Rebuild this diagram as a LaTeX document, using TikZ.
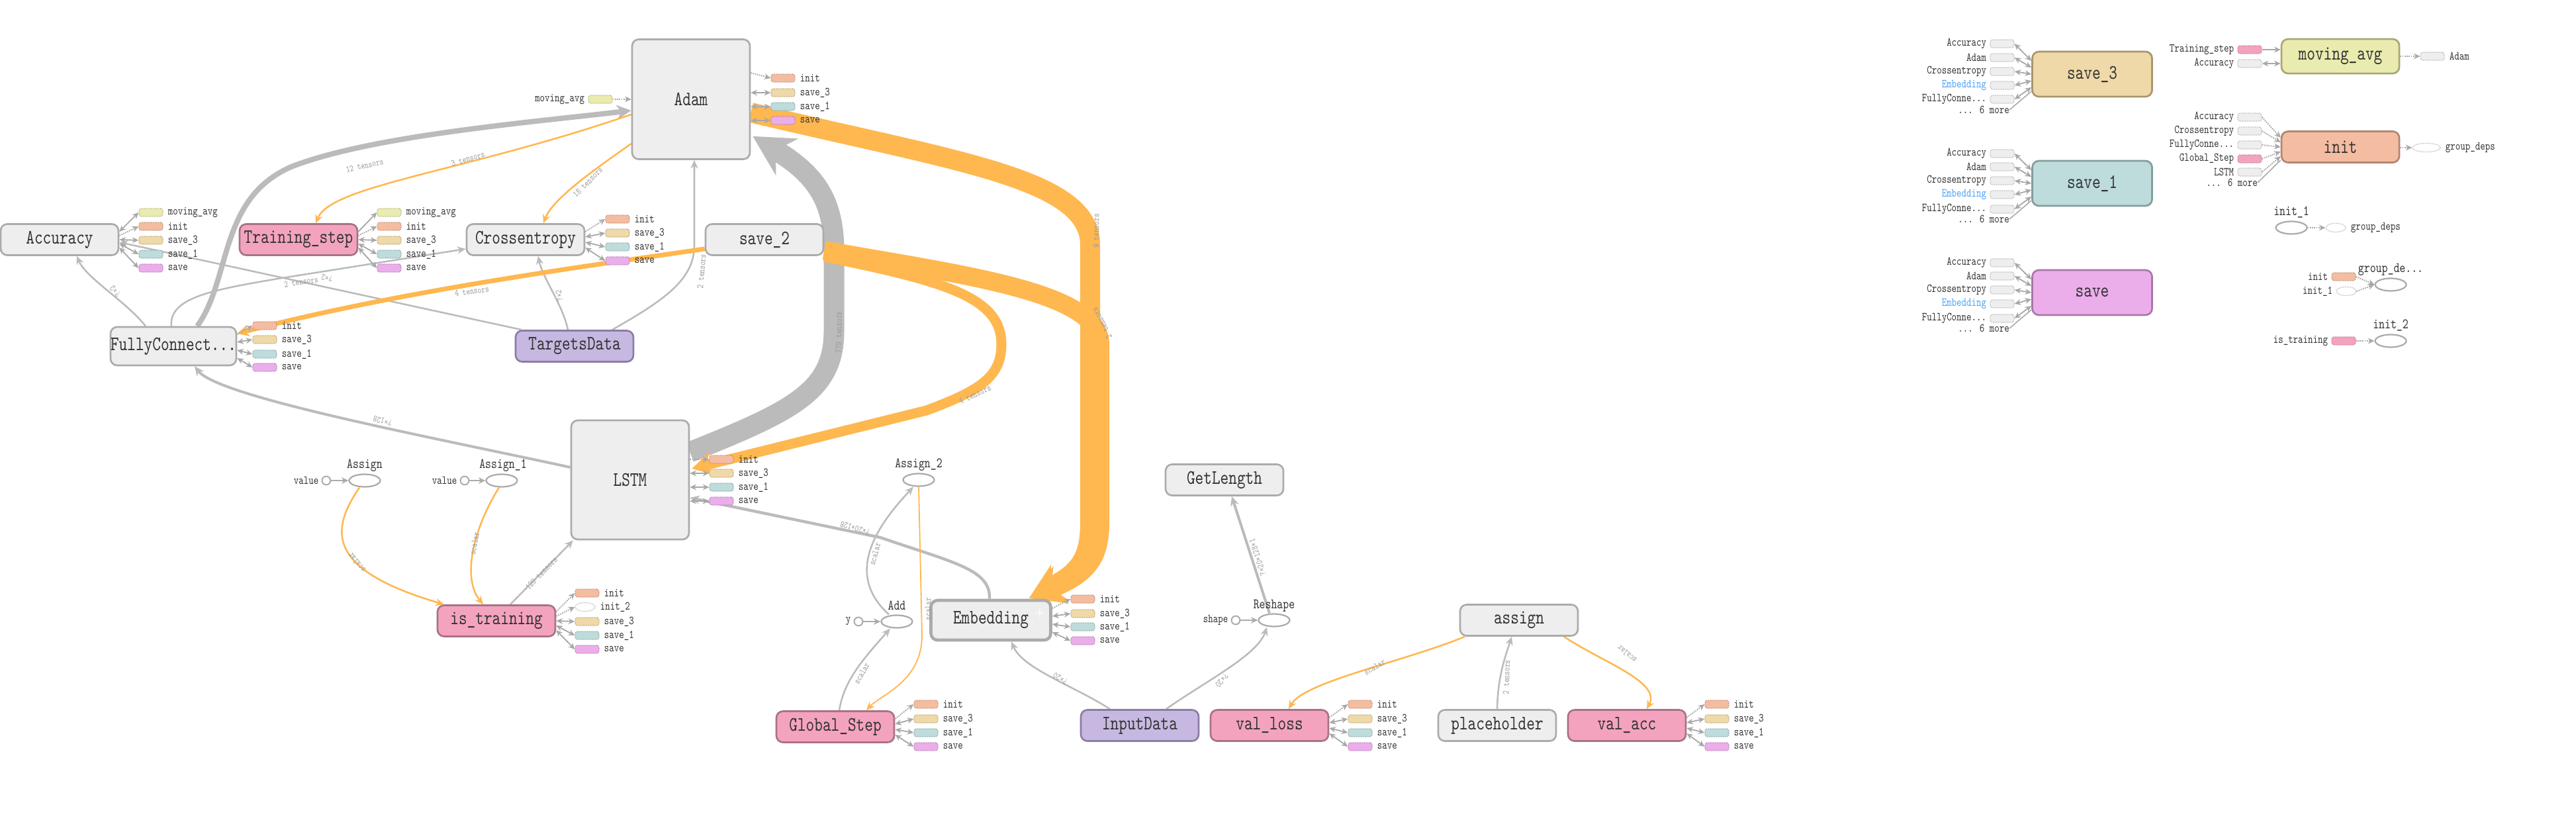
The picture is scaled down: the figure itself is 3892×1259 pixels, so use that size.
\documentclass[tikz,border=0pt]{standalone}
\usepackage{fontspec}
\usetikzlibrary{arrows.meta,shapes.geometric,calc}
\newfontfamily\tb{lmmono10-regular.otf}[FakeStretch=0.78]
\pgfdeclarelayer{bg}
\pgfsetlayers{bg,main}
\definecolor{gF}{HTML}{EEEEEE}
\definecolor{gL}{HTML}{ABABAB}
\definecolor{gD}{HTML}{B5B5B5}
\definecolor{txt}{HTML}{333333}
\definecolor{pF}{HTML}{F4A3BE}
\definecolor{pL}{HTML}{A87287}
\definecolor{pD}{HTML}{C77A95}
\definecolor{uF}{HTML}{C7B8E1}
\definecolor{uL}{HTML}{8B7DA6}
\definecolor{iF}{HTML}{F4BDA1}
\definecolor{iL}{HTML}{B38572}
\definecolor{iD}{HTML}{C58E79}
\definecolor{tF}{HTML}{EFD9A9}
\definecolor{tL}{HTML}{A8966E}
\definecolor{tD}{HTML}{BCA574}
\definecolor{oF}{HTML}{BDDCDB}
\definecolor{oL}{HTML}{849D9C}
\definecolor{oD}{HTML}{8FAAA9}
\definecolor{sF}{HTML}{EBAEEB}
\definecolor{sL}{HTML}{A878A8}
\definecolor{sD}{HTML}{B57FB5}
\definecolor{mF}{HTML}{EAEBAE}
\definecolor{mL}{HTML}{A8A877}
\definecolor{mD}{HTML}{B6B67E}
\definecolor{eg}{HTML}{BBBBBB}
\definecolor{lgc}{HTML}{A8A8A8}
\definecolor{org}{HTML}{FFB74F}
\definecolor{elab}{HTML}{9A9A9A}
\definecolor{blu}{HTML}{4DA3F5}
\newcommand\lgR[5]{\node[lgb,fill=#3,draw=#4] (#1) at (#2) {};\node[lgt] (#1t) at ($(#1.east)+(7,0)$) {#5};}
\newcommand\lgL[5]{\node[lgb,fill=#3,draw=#4] (#1) at (#2) {};\node[lgr] (#1t) at ($(#1.west)+(-5,0)$) {#5};}
\newcommand\edl[4]{\node[elt,rotate=#3] (#1) at (#2) {#4};}
\begin{document}
\begin{tikzpicture}[x=0.25mm,y=-0.25mm,
  box/.style={rectangle, rounded corners=2.5mm, line width=1.9pt, inner sep=0pt, minimum width=44.5mm, minimum height=11.75mm, font=\tb\fontsize{22}{23}\selectfont, text=txt},
  gbox/.style={box, fill=gF, draw=gL},
  pbox/.style={box, fill=pF, draw=pL},
  ubox/.style={box, fill=uF, draw=uL},
  lgb/.style={rectangle, rounded corners=0.8mm, densely dotted, line width=0.9pt, minimum width=9mm, minimum height=3mm, inner sep=0pt},
  lgt/.style={font=\tb\fontsize{13}{14}\selectfont, text=txt, inner sep=0pt, anchor=west},
  lgr/.style={lgt, anchor=east},
  midt/.style={font=\tb\fontsize{15.5}{16}\selectfont, text=txt, inner sep=0pt},
  elt/.style={font=\tb\fontsize{10}{11}\selectfont, text=elab, inner sep=0pt},
  opn/.style={ellipse, draw=gL, line width=1.6pt, minimum width=11.75mm, minimum height=4.75mm, inner sep=0pt, fill=white},
  smc/.style={circle, draw=gL, line width=1.4pt, minimum size=3.2mm, inner sep=0pt, fill=white},
  dte/.style={ellipse, draw=gD, densely dotted, line width=0.9pt, minimum width=7.5mm, minimum height=3.3mm, inner sep=0pt},
  ge/.style={draw=eg, line width=1.8pt, -{Stealth[length=3.2mm,width=2.8mm]}},
  oe/.style={draw=org, line width=1.8pt, -{Stealth[length=3.2mm,width=2.8mm]}},
  la/.style={draw=lgc, line width=1.3pt, -{Stealth[length=2.4mm,width=2.2mm]}},
  lad/.style={draw=lgc, line width=1.3pt, {Stealth[length=2.4mm,width=2.2mm]}-{Stealth[length=2.4mm,width=2.2mm]}},
  ld/.style={draw=lgc, line width=1.3pt, densely dotted, -{Stealth[length=2.4mm,width=2.2mm]}},
  mline/.style={draw=lgc, line width=1.1pt}
]
\useasboundingbox (0,0) rectangle (3892,1259);

% ---------- main nodes ----------
\node[gbox, minimum height=45.25mm] (adam) at (1044,150) {Adam};
\node[gbox] (acc) at (90,362) {Accuracy};
\node[pbox] (ts) at (451,362) {Training\_step};
\node[gbox] (ce) at (794,362) {Crossentropy};
\node[gbox] (s2) at (1155,362) {save\_2};
\node[gbox, minimum height=14.5mm] (fc) at (262,523) {FullyConnect...};
\node[ubox] (td) at (868,523) {TargetsData};
\node[gbox, minimum height=45mm] (lstm) at (952,725) {LSTM};
\node[pbox] (ist) at (750,938) {is\_training};
\node[gbox, line width=3.3pt, minimum width=45.25mm, minimum height=15mm] (emb) at (1497,937) {Embedding};
\node[text=white, font=\bfseries\fontsize{14}{14}\selectfont, inner sep=0pt] (embplus) at (1571,927) {+};
\node[pbox] (gs) at (1262,1098) {Global\_Step};
\node[ubox] (inp) at (1722,1096) {InputData};
\node[pbox] (vl) at (1918,1096) {val\_loss};
\node[gbox] (ph) at (2262,1096) {placeholder};
\node[pbox] (va) at (2458,1096) {val\_acc};
\node[gbox] (asg) at (2295,937) {assign};
\node[gbox] (gl) at (1850,725) {GetLength};

% op ellipses
\node[opn] (asn) at (551,726) {};
\node[midt] (asnt) at (551,703) {Assign};
\node[smc] (asv) at (493,726) {};
\node[lgr] (asvt) at ($(asv.west)+(-4,0)$) {value};
\node[opn] (as1) at (758,726) {};
\node[midt] (as1t) at (760,703) {Assign\_1};
\node[smc] (as1v) at (702,726) {};
\node[lgr] (as1vt) at ($(as1v.west)+(-4,0)$) {value};
\node[opn] (as2) at (1388,725) {};
\node[midt] (as2t) at (1388,702) {Assign\_2};
\node[opn] (add) at (1355,939) {};
\node[midt] (addt) at (1355,915) {Add};
\node[smc] (addy) at (1297,939) {};
\node[lgr] (addyt) at ($(addy.west)+(-4,0)$) {y};
\node[opn] (rsh) at (1925,937) {};
\node[midt] (rsht) at (1925,915) {Reshape};
\node[smc] (rshs) at (1867,937) {};
\node[lgr] (rshst) at ($(rshs.west)+(-4,0)$) {shape};
\draw[draw=gL, line width=1.5pt, -{Stealth[length=2.6mm,width=2.4mm]}] (asv) -- (asn);
\draw[draw=gL, line width=1.5pt, -{Stealth[length=2.6mm,width=2.4mm]}] (as1v) -- (as1);
\draw[draw=gL, line width=1.5pt, -{Stealth[length=2.6mm,width=2.4mm]}] (addy) -- (add);
\draw[draw=gL, line width=1.5pt, -{Stealth[length=2.6mm,width=2.4mm]}] (rshs) -- (rsh);

% ---------- legends ----------
% Adam
\lgL{adM}{907,150}{mF}{mD}{moving\_avg}
\draw[ld] (adM.east) -- (adM.east -| adam.west);
\lgR{adA}{1183,118}{iF}{iD}{init}
\lgR{adB}{1183,140}{tF}{tD}{save\_3}
\lgR{adC}{1183,161}{oF}{oD}{save\_1}
\lgR{adD}{1183,182}{sF}{sD}{save}
\draw[ld] ($(adam.east)+(0,-40)$) -- (adA.west);
\draw[lad] (adB.west -| adam.east) -- (adB.west);
\draw[lad] (adC.west -| adam.east) -- (adC.west);
\draw[lad] (adD.west -| adam.east) -- (adD.west);
% Accuracy
\lgR{acA}{228,321}{mF}{mD}{moving\_avg}
\lgR{acB}{228,342}{iF}{iD}{init}
\lgR{acC}{228,363}{tF}{tD}{save\_3}
\lgR{acD}{228,384}{oF}{oD}{save\_1}
\lgR{acE}{228,405}{sF}{sD}{save}
\draw[lad] ($(acc.east)+(0,-12)$) -- (acA.west);
\draw[ld] ($(acc.east)+(0,-6)$) -- (acB.west);
\draw[lad] ($(acc.east)+(0,0)$) -- (acC.west);
\draw[lad] ($(acc.east)+(0,6)$) -- (acD.west);
\draw[lad] ($(acc.east)+(0,12)$) -- (acE.west);
% Training_step
\lgR{tsA}{588,321}{mF}{mD}{moving\_avg}
\lgR{tsB}{588,342}{iF}{iD}{init}
\lgR{tsC}{588,363}{tF}{tD}{save\_3}
\lgR{tsD}{588,384}{oF}{oD}{save\_1}
\lgR{tsE}{588,405}{sF}{sD}{save}
\draw[la] ($(ts.east)+(0,-12)$) -- (tsA.west);
\draw[ld] ($(ts.east)+(0,-6)$) -- (tsB.west);
\draw[lad] ($(ts.east)+(0,0)$) -- (tsC.west);
\draw[lad] ($(ts.east)+(0,6)$) -- (tsD.west);
\draw[lad] ($(ts.east)+(0,12)$) -- (tsE.west);
% Crossentropy
\lgR{ceA}{933,331}{iF}{iD}{init}
\lgR{ceB}{933,352}{tF}{tD}{save\_3}
\lgR{ceC}{933,373}{oF}{oD}{save\_1}
\lgR{ceD}{933,394}{sF}{sD}{save}
\draw[ld] ($(ce.east)+(0,-12)$) -- (ceA.west);
\draw[lad] ($(ce.east)+(0,-4)$) -- (ceB.west);
\draw[lad] ($(ce.east)+(0,4)$) -- (ceC.west);
\draw[lad] ($(ce.east)+(0,12)$) -- (ceD.west);
% FullyConnect
\lgR{fcA}{400,492}{iF}{iD}{init}
\lgR{fcB}{400,513}{tF}{tD}{save\_3}
\lgR{fcC}{400,535}{oF}{oD}{save\_1}
\lgR{fcD}{400,555}{sF}{sD}{save}
\draw[ld] ($(fc.east)+(0,-18)$) -- (fcA.west);
\draw[lad] ($(fc.east)+(0,-6)$) -- (fcB.west);
\draw[lad] ($(fc.east)+(0,6)$) -- (fcC.west);
\draw[lad] ($(fc.east)+(0,18)$) -- (fcD.west);
% LSTM
\lgR{lsA}{1090,694}{iF}{iD}{init}
\lgR{lsB}{1090,715}{tF}{tD}{save\_3}
\lgR{lsC}{1090,736}{oF}{oD}{save\_1}
\lgR{lsD}{1090,757}{sF}{sD}{save}
\draw[ld] (lsA.west -| lstm.east) -- (lsA.west);
\draw[lad] (lsB.west -| lstm.east) -- (lsB.west);
\draw[lad] (lsC.west -| lstm.east) -- (lsC.west);
\draw[lad] (lsD.west -| lstm.east) -- (lsD.west);
% is_training
\lgR{itA}{887,896}{iF}{iD}{init}
\node[dte] (itB) at (884,917) {};
\node[lgt] (itBt) at ($(itB.east)+(7,0)$) {init\_2};
\lgR{itC}{887,939}{tF}{tD}{save\_3}
\lgR{itD}{887,960}{oF}{oD}{save\_1}
\lgR{itE}{887,981}{sF}{sD}{save}
\draw[ld] ($(ist.east)+(0,-14)$) -- (itA.west);
\draw[ld] ($(ist.east)+(0,-7)$) -- (itB.west);
\draw[lad] ($(ist.east)+(0,0)$) -- (itC.west);
\draw[lad] ($(ist.east)+(0,7)$) -- (itD.west);
\draw[lad] ($(ist.east)+(0,14)$) -- (itE.west);
% Embedding
\lgR{emA}{1636,905}{iF}{iD}{init}
\lgR{emB}{1636,927}{tF}{tD}{save\_3}
\lgR{emC}{1636,947}{oF}{oD}{save\_1}
\lgR{emD}{1636,968}{sF}{sD}{save}
\draw[ld] ($(emb.east)+(0,-18)$) -- (emA.west);
\draw[lad] ($(emb.east)+(0,-6)$) -- (emB.west);
\draw[lad] ($(emb.east)+(0,6)$) -- (emC.west);
\draw[lad] ($(emb.east)+(0,18)$) -- (emD.west);
% Global_Step
\lgR{gsA}{1399,1064}{iF}{iD}{init}
\lgR{gsB}{1399,1086}{tF}{tD}{save\_3}
\lgR{gsC}{1399,1107}{oF}{oD}{save\_1}
\lgR{gsD}{1399,1128}{sF}{sD}{save}
\draw[ld] ($(gs.east)+(0,-12)$) -- (gsA.west);
\draw[lad] ($(gs.east)+(0,-4)$) -- (gsB.west);
\draw[lad] ($(gs.east)+(0,4)$) -- (gsC.west);
\draw[lad] ($(gs.east)+(0,12)$) -- (gsD.west);
% val_loss
\lgR{vlA}{2055,1064}{iF}{iD}{init}
\lgR{vlB}{2055,1086}{tF}{tD}{save\_3}
\lgR{vlC}{2055,1107}{oF}{oD}{save\_1}
\lgR{vlD}{2055,1128}{sF}{sD}{save}
\draw[ld] ($(vl.east)+(0,-12)$) -- (vlA.west);
\draw[lad] ($(vl.east)+(0,-4)$) -- (vlB.west);
\draw[lad] ($(vl.east)+(0,4)$) -- (vlC.west);
\draw[lad] ($(vl.east)+(0,12)$) -- (vlD.west);
% val_acc
\lgR{vaA}{2594,1064}{iF}{iD}{init}
\lgR{vaB}{2594,1086}{tF}{tD}{save\_3}
\lgR{vaC}{2594,1107}{oF}{oD}{save\_1}
\lgR{vaD}{2594,1128}{sF}{sD}{save}
\draw[ld] ($(va.east)+(0,-12)$) -- (vaA.west);
\draw[lad] ($(va.east)+(0,-4)$) -- (vaB.west);
\draw[lad] ($(va.east)+(0,4)$) -- (vaC.west);
\draw[lad] ($(va.east)+(0,12)$) -- (vaD.west);

% ---------- right panel ----------
\node[box, fill=tF, draw=tL, minimum width=45.25mm, minimum height=17mm] (rs3) at (3161,112) {save\_3};
\node[box, fill=oF, draw=oL, minimum width=45.25mm, minimum height=17mm] (rs1) at (3161,277) {save\_1};
\node[box, fill=sF, draw=sL, minimum width=45.25mm, minimum height=17mm] (rs) at (3161,442) {save};
\node[box, fill=mF, draw=mL, minimum height=13mm] (rma) at (3536,85) {moving\_avg};
\node[box, fill=iF, draw=iL] (rin) at (3536,222) {init};
% save_3 inputs
\lgL{raA}{3025,66}{gF}{gD}{Accuracy}
\lgL{raB}{3025,87}{gF}{gD}{Adam}
\lgL{raC}{3025,108}{gF}{gD}{Crossentropy}
\lgL{raD}{3025,129}{gF}{gD}{\textcolor{blu}{Embedding}}
\lgL{raE}{3025,150}{gF}{gD}{FullyConne...}
\node[lgr] (raM) at (3036,166) {... 6 more};
\draw[lad] (raA.east) -- ($(rs3.west)+(0,-20)$);
\draw[lad] (raB.east) -- ($(rs3.west)+(0,-10)$);
\draw[lad] (raC.east) -- ($(rs3.west)+(0,0)$);
\draw[lad] (raD.east) -- ($(rs3.west)+(0,10)$);
\draw[lad] (raE.east) -- ($(rs3.west)+(0,20)$);
\draw[mline] (raM.east) -- ($(rs3.west)+(0,26)$);
% save_1 inputs
\lgL{rbA}{3025,232}{gF}{gD}{Accuracy}
\lgL{rbB}{3025,252}{gF}{gD}{Adam}
\lgL{rbC}{3025,273}{gF}{gD}{Crossentropy}
\lgL{rbD}{3025,294}{gF}{gD}{\textcolor{blu}{Embedding}}
\lgL{rbE}{3025,316}{gF}{gD}{FullyConne...}
\node[lgr] (rbM) at (3036,331) {... 6 more};
\draw[lad] (rbA.east) -- ($(rs1.west)+(0,-20)$);
\draw[lad] (rbB.east) -- ($(rs1.west)+(0,-10)$);
\draw[lad] (rbC.east) -- ($(rs1.west)+(0,0)$);
\draw[lad] (rbD.east) -- ($(rs1.west)+(0,10)$);
\draw[lad] (rbE.east) -- ($(rs1.west)+(0,20)$);
\draw[mline] (rbM.east) -- ($(rs1.west)+(0,26)$);
% save inputs
\lgL{rcA}{3025,397}{gF}{gD}{Accuracy}
\lgL{rcB}{3025,417}{gF}{gD}{Adam}
\lgL{rcC}{3025,438}{gF}{gD}{Crossentropy}
\lgL{rcD}{3025,459}{gF}{gD}{\textcolor{blu}{Embedding}}
\lgL{rcE}{3025,481}{gF}{gD}{FullyConne...}
\node[lgr] (rcM) at (3036,496) {... 6 more};
\draw[lad] (rcA.east) -- ($(rs.west)+(0,-20)$);
\draw[lad] (rcB.east) -- ($(rs.west)+(0,-10)$);
\draw[lad] (rcC.east) -- ($(rs.west)+(0,0)$);
\draw[lad] (rcD.east) -- ($(rs.west)+(0,10)$);
\draw[lad] (rcE.east) -- ($(rs.west)+(0,20)$);
\draw[mline] (rcM.east) -- ($(rs.west)+(0,26)$);
% moving_avg
\lgL{rmA}{3399,75}{pF}{pD}{Training\_step}
\lgL{rmB}{3399,96}{gF}{gD}{Accuracy}
\draw[la] (rmA.east) -- (rmA.east -| rma.west);
\draw[lad] (rmB.east) -- (rmB.east -| rma.west);
\lgR{rmC}{3675,85}{gF}{gD}{Adam}
\draw[ld] (rmC.west -| rma.east) -- (rmC.west);
% init
\lgL{riA}{3399,177}{gF}{gD}{Accuracy}
\lgL{riB}{3399,198}{gF}{gD}{Crossentropy}
\lgL{riC}{3399,219}{gF}{gD}{FullyConne...}
\lgL{riD}{3399,240}{pF}{pD}{Global\_Step}
\lgL{riE}{3399,260}{gF}{gD}{LSTM}
\node[lgr] (riM) at (3411,276) {... 6 more};
\draw[ld] (riA.east) -- ($(rin.west)+(0,-14)$);
\draw[ld] (riB.east) -- ($(rin.west)+(0,-7)$);
\draw[ld] (riC.east) -- ($(rin.west)+(0,0)$);
\draw[ld] (riD.east) -- ($(rin.west)+(0,7)$);
\draw[ld] (riE.east) -- ($(rin.west)+(0,14)$);
\draw[mline] (riM.east) -- ($(rin.west)+(0,20)$);
\node[dte, minimum width=10.5mm] (riG) at (3666,223) {};
\node[lgt] (riGt) at ($(riG.east)+(7,0)$) {group\_deps};
\draw[ld] (riG.west -| rin.east) -- (riG.west);
% init_1
\node[midt] (i1t) at (3462,321) {init\_1};
\node[opn] (i1) at (3462,344) {};
\node[dte] (i1g) at (3529,344) {};
\node[lgt] (i1gt) at ($(i1g.east)+(7,0)$) {group\_deps};
\draw[ld] (i1.east) -- (i1g.west);
% group_de...
\node[midt] (gdt) at (3612,407) {group\_de...};
\node[opn] (gd) at (3612,430) {};
\lgL{gdA}{3541,418}{iF}{iD}{init}
\node[dte] (gdB) at (3545,440) {};
\node[lgr] (gdBt) at ($(gdB.west)+(-5,0)$) {init\_1};
\draw[ld] (gdA.east) -- (gd.west);
\draw[ld] (gdB.east) -- (gd.west);
% init_2
\node[midt] (i2t) at (3612,492) {init\_2};
\node[opn] (i2) at (3612,515) {};
\lgL{i2A}{3541,515}{pF}{pD}{is\_training}
\draw[ld] (i2A.east) -- (i2.west);

% ---------- edges (behind) ----------
\begin{pgfonlayer}{bg}
\fill[white] (0,0) rectangle (3892,1259);
% LSTM -> Adam (779 tensors)
\draw[draw=eg, line width=7.75mm, -{Stealth[length=15mm,width=16mm]}]
  ($(lstm.east)+(0,-42)$) .. controls (1200,620) and (1260,590) .. (1260,500) -- (1260,380)
  .. controls (1260,300) and (1230,262) .. ($(adam.south east)+(3,-36)$);
% FullyConnect -> Adam (12 tensors)
\draw[draw=eg, line width=2mm, -{Stealth[length=5.5mm,width=5.5mm]}]
  ($(fc.north)+(36,0)$) .. controls (350,420) and (330,300) .. (440,252)
  .. controls (560,205) and (800,185) .. ($(adam.west)+(0,17)$);
% Adam -> Training_step
\draw[oe] ($(adam.west)+(0,23)$) .. controls (700,260) and (500,280) .. ($(ts.north)+(26,0)$);
% Adam -> Crossentropy
\draw[oe] ($(adam.west)+(0,67)$) .. controls (900,255) and (835,300) .. ($(ce.north)+(27,0)$);
% TargetsData -> Adam
\draw[ge] ($(td.north)+(57,0)$) .. controls (1010,450) and (1049,420) .. (1049,370) -- ($(adam.south)+(5,0)$);
% TargetsData -> Crossentropy
\draw[ge] ($(td.north)+(-10,0)$) .. controls (850,460) and (820,420) .. ($(ce.south)+(19,0)$);
% TargetsData -> Accuracy
\draw[ge] ($(td.north)+(-80,0)$) -- ($(acc.east)+(0,4)$);
% FullyConnect -> Crossentropy
\draw[ge] ($(fc.north)+(-3,0)$) .. controls (255,450) and (320,438) .. (420,421) -- ($(ce.west)+(0,14)$);
% FullyConnect -> Accuracy
\draw[ge] ($(fc.north)+(-42,0)$) .. controls (190,455) and (130,420) .. ($(acc.south)+(26,0)$);
% save_2 -> FullyConnect
\draw[draw=org, line width=1.75mm, -{Stealth[length=4.5mm,width=4.5mm]}]
  ($(s2.west)+(0,14)$) .. controls (900,400) and (600,440) .. ($(fc.east)+(0,-19)$);
% LSTM -> FullyConnect
\draw[draw=eg, line width=1mm, -{Stealth[length=3.6mm,width=3.2mm]}]
  ($(lstm.west)+(0,-19)$) .. controls (650,660) and (330,600) .. ($(fc.south)+(32,0)$);
% Embedding -> LSTM
\draw[draw=eg, line width=1.1mm, -{Stealth[length=3.6mm,width=3.2mm]}]
  ($(emb.north)+(-2,0)$) .. controls (1497,860) and (1440,850) .. (1330,812) -- ($(lstm.east)+(0,27)$);
% is_training -> LSTM
\draw[ge] ($(ist.north)+(21,0)$) -- ($(lstm.south)+(-86,0)$);
% Assign -> is_training
\draw[oe] ($(asn.south)+(-8,0)$) .. controls (500,800) and (490,860) .. ($(ist.north)+(-79,0)$);
% Assign_1 -> is_training
\draw[oe] ($(as1.south)+(-4,0)$) .. controls (720,790) and (695,870) .. ($(ist.north)+(-20,0)$);
% Global_Step -> Add
\draw[ge] ($(gs.north)+(6,0)$) .. controls (1275,1030) and (1300,1000) .. ($(add.south)+(-10,0)$);
% Add -> Assign_2
\draw[ge] ($(add.north)+(-12,0)$) .. controls (1290,880) and (1300,820) .. ($(as2.south)+(-8,0)$);
% Assign_2 -> Global_Step
\draw[oe, line width=1.3pt] (as2.south) -- (1393,960) .. controls (1393,1030) and (1330,1050) .. ($(gs.north)+(47,0)$);
% InputData -> Embedding
\draw[ge] ($(inp.north)+(-45,0)$) .. controls (1620,1035) and (1545,1010) .. ($(emb.south)+(31,0)$);
% InputData -> Reshape
\draw[ge] ($(inp.north)+(40,0)$) .. controls (1820,1030) and (1900,990) .. ($(rsh.south)+(-11,0)$);
% Reshape -> GetLength
\draw[draw=eg, line width=1mm, -{Stealth[length=3.6mm,width=3.2mm]}] ($(rsh.north)+(-7,0)$) -- ($(gl.south)+(11,0)$);
% placeholder -> assign
\draw[ge] (ph.north) .. controls (2263,1020) and (2275,990) .. ($(asg.south)+(-11,0)$);
% assign -> val_loss / val_acc
\draw[oe] ($(asg.south)+(-82,0)$) .. controls (2120,1000) and (1970,1030) .. ($(vl.north)+(29,0)$);
\draw[oe] ($(asg.south)+(68,0)$) .. controls (2420,1000) and (2510,1030) .. ($(va.north)+(30,0)$);
% Adam -> Embedding (9 tensors)
\draw[draw=org, line width=7.5mm, -{Stealth[length=13mm,width=15mm]}]
  ($(adam.east)+(0,20)$) .. controls (1450,245) and (1647,270) .. (1647,370) -- (1647,790)
  .. controls (1647,845) and (1630,866) .. ($(emb.north east)+(-35,-1)$);
% save_2 -> Embedding (2 tensors)
\draw[draw=org, line width=7mm, -{Stealth[length=13mm,width=15mm]}]
  ($(s2.east)+(0,16)$) .. controls (1450,415) and (1662,440) .. (1662,520) -- (1662,790)
  .. controls (1662,850) and (1636,870) .. ($(emb.north east)+(-35,-1)$);
% save_2 -> LSTM (4 tensors)
\draw[draw=org, line width=3.75mm, -{Stealth[length=8mm,width=9mm]}]
  ($(s2.east)+(0,26)$) .. controls (1430,425) and (1513,450) .. (1513,520)
  .. controls (1513,570) and (1480,590) .. (1400,620) -- ($(lstm.east)+(3,-17)$);
\end{pgfonlayer}

% ---------- edge labels ----------
\edl{l1}{551,250}{12}{12 tensors}
\edl{l2}{707,240}{16}{3 tensors}
\edl{l3}{888,275}{45}{18 tensors}
\edl{l4}{1060,410}{85}{2 tensors}
\edl{l5}{845,447}{102}{?×2}
\edl{l6}{174,440}{135}{?×2}
\edl{l7}{455,426}{9}{2 tensors}
\edl{l8}{494,420}{168}{?×2}
\edl{l9}{713,440}{8}{4 tensors}
\edl{l10}{578,636}{165}{?×128}
\edl{l11}{1292,798}{164}{?×20×128}
\edl{l12}{1602,1025}{150}{?×20}
\edl{l13}{1900,842}{108}{?×20×128×1}
\edl{l14}{1846,1028}{-130}{?×20}
\edl{l15}{818,866}{46}{120 tensors}
\edl{l16}{539,850}{130}{scalar}
\edl{l17}{717,821}{80}{scalar}
\edl{l18}{1302,1017}{60}{scalar}
\edl{l19}{1322,837}{75}{scalar}
\edl{l20}{1402,920}{90}{scalar}
\edl{l21}{1267,502}{90}{779 tensors}
\edl{l22}{1656,349}{90}{9 tensors}
\edl{l23}{1665,488}{117}{2 tensors}
\edl{l24}{1473,596}{25}{4 tensors}
\edl{l25}{2077,1008}{30}{scalar}
\edl{l26}{2458,988}{140}{scalar}
\edl{l27}{2276,1023}{88}{2 tensors}
\end{tikzpicture}
\end{document}
